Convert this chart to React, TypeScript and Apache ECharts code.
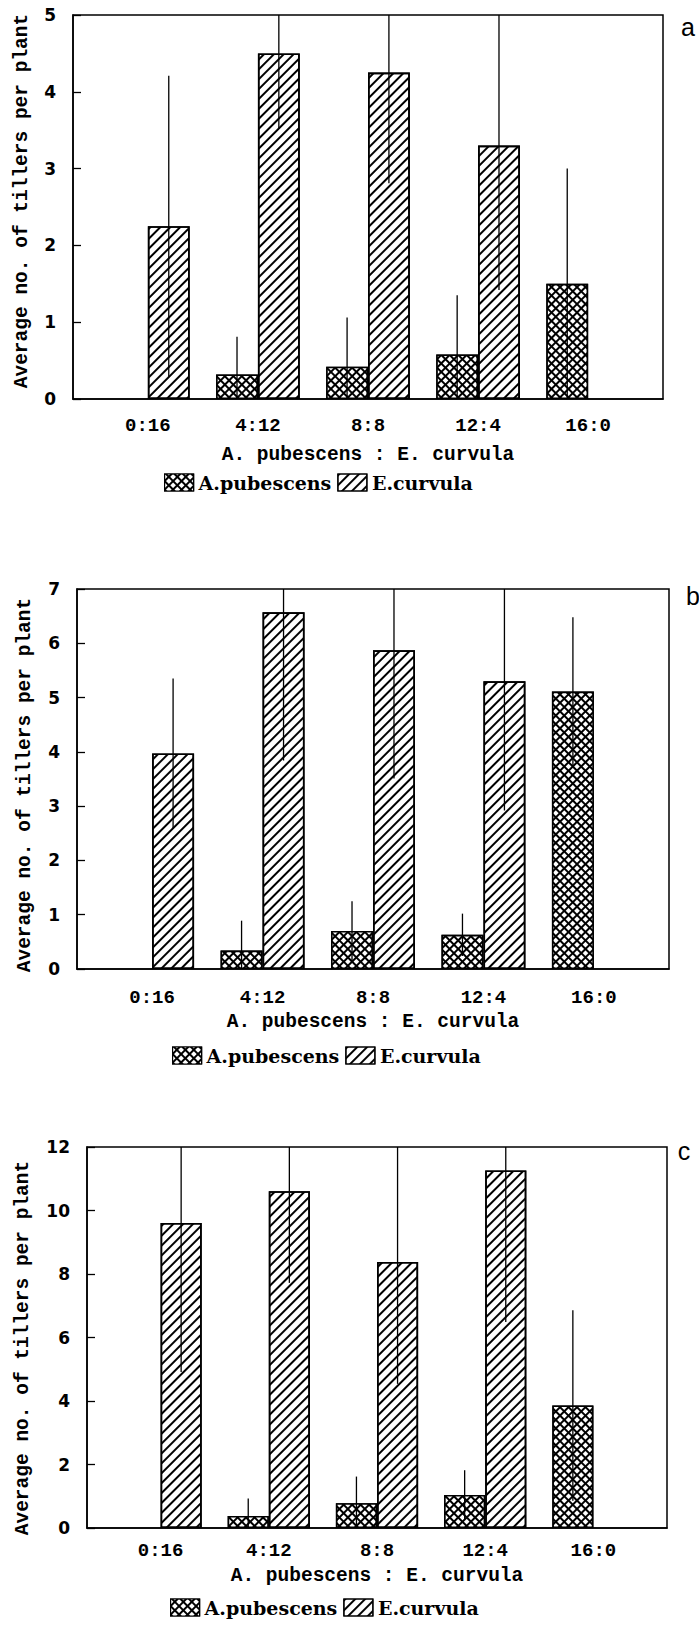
import React, { useEffect, useRef } from "react";
import * as echarts from "echarts";

// Sowing ratios (A. pubescens : E. curvula)
const categories = ["0:16", "4:12", "8:8", "12:4", "16:0"];
const seriesNames = ["A.pubescens", "E.curvula"];

// Panel a: average tillers per plant, with standard deviations
const aPubMean = [null, 0.32, 0.42, 0.58, 1.5];
const aPubSd = [null, 0.49, 0.64, 0.77, 1.5];
const aCurvMean = [2.25, 4.5, 4.25, 3.3, null];
const aCurvSd = [1.96, 0.98, 1.44, 1.88, null];

// Panel b
const bPubMean = [null, 0.34, 0.7, 0.63, 5.11];
const bPubSd = [null, 0.55, 0.55, 0.39, 1.37];
const bCurvMean = [3.97, 6.57, 5.87, 5.3, null];
const bCurvSd = [1.38, 2.73, 2.36, 2.38, null];

// Panel c
const cPubMean = [null, 0.38, 0.78, 1.04, 3.86];
const cPubSd = [null, 0.55, 0.84, 0.78, 3.0];
const cCurvMean = [9.61, 10.61, 8.38, 11.26, null];
const cCurvSd = [4.7, 2.89, 3.84, 4.77, null];

// y axis ranges per panel
const yMaxes = [5, 7, 12];
const yIntervals = [1, 1, 2];
const panelLetters = ["a", "b", "c"];

const X_TITLE = "A. pubescens : E. curvula";
const Y_TITLE = "Average no. of tillers per plant";

const BAR_FRAC = 0.38;

const MONO = "Liberation Mono";
const SERIF = "DejaVu Serif";

// white diamonds on a black fill -> cross-hatched look
const crossDecal = {
  symbol: "rect",
  symbolSize: 1,
  dashArrayX: [3.6, 1.9],
  dashArrayY: [3.6, 1.9],
  rotation: Math.PI / 4,
  color: "#fff",
};

// diagonal "///" stripes on white
const hatchDecal = {
  symbol: "rect",
  symbolSize: 1,
  dashArrayX: [1, 0],
  dashArrayY: [1.8, 4.6],
  rotation: -Math.PI / 4,
  color: "#000",
};

type Panel = {
  grid: { left: number; top: number; width: number; height: number };
  xLabelMargin: number;
  xTitle: [number, number];
  yTitle: [number, number];
  letter: [number, number];
  legend: [number, number];
  pub: (number | null)[];
  pubSd: (number | null)[];
  curv: (number | null)[];
  curvSd: (number | null)[];
};

const panels: Panel[] = [
  {
    grid: { left: 73, top: 15, width: 590, height: 384 },
    xLabelMargin: 17,
    xTitle: [368, 455],
    yTitle: [22, 201],
    letter: [688, 27],
    legend: [164, 474],
    pub: aPubMean,
    pubSd: aPubSd,
    curv: aCurvMean,
    curvSd: aCurvSd,
  },
  {
    grid: { left: 77, top: 589, width: 592, height: 380 },
    xLabelMargin: 19,
    xTitle: [373, 1022],
    yTitle: [25, 785],
    letter: [693, 596],
    legend: [172, 1047],
    pub: bPubMean,
    pubSd: bPubSd,
    curv: bCurvMean,
    curvSd: bCurvSd,
  },
  {
    grid: { left: 87, top: 1147, width: 580, height: 381 },
    xLabelMargin: 13,
    xTitle: [377, 1576],
    yTitle: [23, 1348],
    letter: [684, 1151],
    legend: [170, 1599],
    pub: cPubMean,
    pubSd: cPubSd,
    curv: cCurvMean,
    curvSd: cCurvSd,
  },
];

function barData(means: (number | null)[]) {
  const out: number[][] = [];
  means.forEach((m, i) => {
    if (m != null) out.push([i, m]);
  });
  return out;
}

function errData(means: (number | null)[], sds: (number | null)[]) {
  const out: number[][] = [];
  means.forEach((m, i) => {
    if (m != null && sds[i] != null) out.push([i, m, sds[i] as number]);
  });
  return out;
}

function errorSeries(g: number, means: (number | null)[], sds: (number | null)[], side: number, yMax: number) {
  return {
    type: "custom",
    xAxisIndex: g,
    yAxisIndex: g,
    z: 5,
    silent: true,
    data: errData(means, sds),
    renderItem: (_params: any, api: any) => {
      const i = api.value(0);
      const m = api.value(1);
      const sd = api.value(2);
      const lo = Math.max(0, m - sd);
      const hi = Math.min(yMax, m + sd);
      const unit = api.size([1, 0])[0];
      const dx = (side * unit * BAR_FRAC) / 2;
      const p1 = api.coord([i, lo]);
      const p2 = api.coord([i, hi]);
      return {
        type: "line",
        shape: { x1: p1[0] + dx, y1: p1[1], x2: p2[0] + dx, y2: p2[1] },
        style: { stroke: "#000", lineWidth: 1.3 },
      };
    },
  };
}

export default function App() {
  const ref = useRef<HTMLDivElement>(null);

  useEffect(() => {
    if (!ref.current) return;
    const chart = echarts.init(ref.current, undefined, { renderer: "svg" });

    const grids: any[] = [];
    const xAxes: any[] = [];
    const yAxes: any[] = [];
    const series: any[] = [];
    const legends: any[] = [];
    const graphics: any[] = [];

    panels.forEach((p, g) => {
      grids.push({
        ...p.grid,
        show: true,
        borderColor: "#000",
        borderWidth: 1.5,
        backgroundColor: "transparent",
      });
      xAxes.push({
        type: "value",
        gridIndex: g,
        min: -0.68,
        max: 4.68,
        axisLine: { show: true, onZero: false, lineStyle: { color: "#000", width: 1.5 } },
        axisTick: { show: false },
        splitLine: { show: false },
        axisLabel: {
          customValues: [0, 1, 2, 3, 4],
          formatter: (v: number) => {
            const r = Math.round(v);
            return Math.abs(v - r) < 1e-6 && categories[r] ? categories[r] : "";
          },
          margin: p.xLabelMargin,
          fontFamily: MONO,
          fontWeight: "bold",
          fontSize: 19,
          color: "#000",
        },
      });
      yAxes.push({
        type: "value",
        gridIndex: g,
        min: 0,
        max: yMaxes[g],
        interval: yIntervals[g],
        axisLine: { show: true, onZero: false, lineStyle: { color: "#000", width: 1.5 } },
        axisTick: { show: true, inside: true, length: 8, lineStyle: { color: "#000", width: 1.3 } },
        splitLine: { show: false },
        axisLabel: {
          margin: 17,
          fontFamily: "DejaVu Sans",
          fontWeight: "bold",
          fontSize: 17,
          color: "#000",
        },
      });
      series.push({
        type: "bar",
        name: seriesNames[0],
        xAxisIndex: g,
        yAxisIndex: g,
        barWidth: BAR_FRAC * 100 + "%",
        barGap: "0%",
        data: barData(p.pub),
        itemStyle: { color: "#000", borderColor: "#000", borderWidth: 1.6, decal: crossDecal },
      });
      series.push({
        type: "bar",
        name: seriesNames[1],
        xAxisIndex: g,
        yAxisIndex: g,
        barWidth: BAR_FRAC * 100 + "%",
        barGap: "0%",
        data: barData(p.curv),
        itemStyle: { color: "#fff", borderColor: "#000", borderWidth: 1.6, decal: hatchDecal },
      });
      series.push(errorSeries(g, p.pub, p.pubSd, -1, yMaxes[g]));
      series.push(errorSeries(g, p.curv, p.curvSd, 1, yMaxes[g]));

      legends.push({
        left: p.legend[0],
        top: p.legend[1] - 1,
        padding: 0,
        orient: "horizontal",
        icon: "rect",
        itemWidth: 29,
        itemHeight: 17,
        itemGap: 6,
        selectedMode: false,
        data: seriesNames,
        itemStyle: { borderColor: "#000", borderWidth: 1.2 },
        textStyle: { fontFamily: SERIF, fontWeight: "bold", fontSize: 19, color: "#000" },
      });

      graphics.push({
        type: "text",
        x: p.xTitle[0],
        y: p.xTitle[1],
        style: {
          text: X_TITLE,
          fontFamily: MONO,
          fontWeight: "bold",
          fontSize: 19.5,
          fill: "#000",
          textAlign: "center",
          textVerticalAlign: "middle",
        },
      });
      graphics.push({
        type: "text",
        x: p.yTitle[0],
        y: p.yTitle[1],
        rotation: Math.PI / 2,
        style: {
          text: Y_TITLE,
          fontFamily: MONO,
          fontWeight: "bold",
          fontSize: 19.5,
          fill: "#000",
          textAlign: "center",
          textVerticalAlign: "middle",
        },
      });
      graphics.push({
        type: "text",
        x: p.letter[0],
        y: p.letter[1],
        style: {
          text: panelLetters[g],
          fontFamily: "Liberation Sans",
          fontSize: 25,
          fill: "#000",
          textAlign: "center",
          textVerticalAlign: "middle",
        },
      });
    });

    chart.setOption({
      animation: false,
      backgroundColor: "#fff",
      grid: grids,
      xAxis: xAxes,
      yAxis: yAxes,
      legend: legends,
      series,
      graphic: graphics,
    });

    return () => chart.dispose();
  }, []);

  return (
    <div
      ref={ref}
      style={{ position: "absolute", left: 0, top: 0, width: 699, height: 1625 }}
    />
  );
}
